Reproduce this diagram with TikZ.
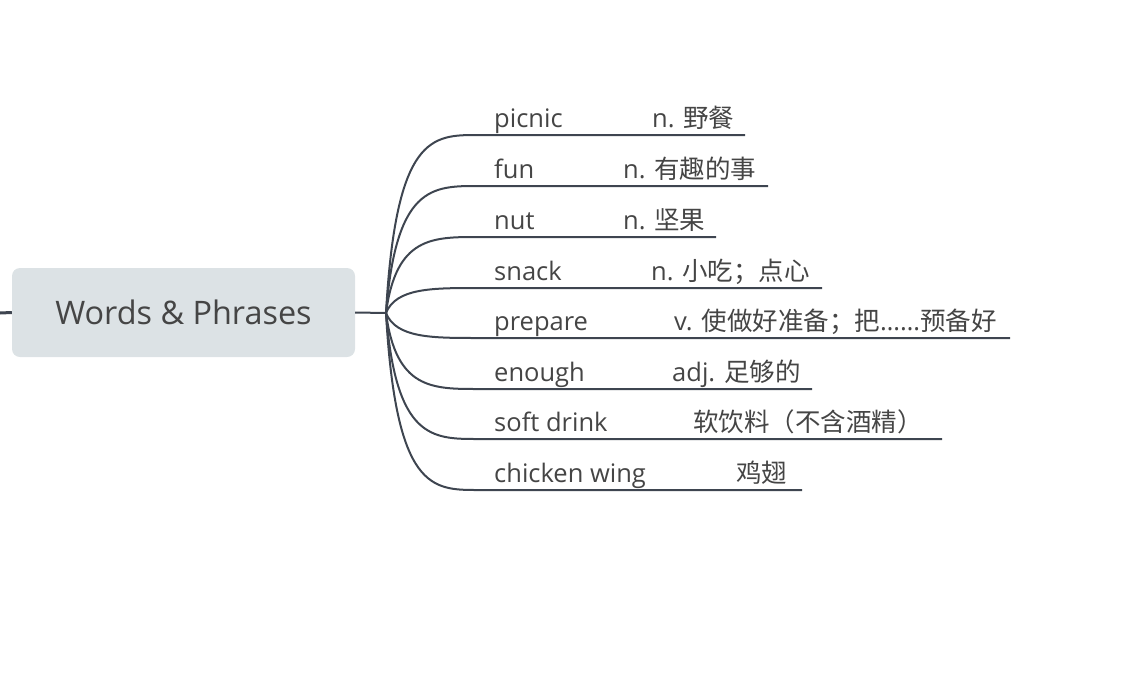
\documentclass[tikz,border=0pt]{standalone}
\usepackage{fontspec}
\setmainfont{Open Sans}
\newfontfamily\cjk{Noto Sans CJK SC}
\definecolor{linec}{HTML}{3E4550}
\definecolor{txtc}{HTML}{454545}
\definecolor{boxc}{HTML}{DCE2E5}
\begin{document}
\begin{tikzpicture}[x=1pt,y=-1pt,
  word/.style={anchor=base west, inner sep=0pt, text=txtc, font=\fontsize{25.5}{30}\selectfont},
  branch/.style={draw=linec, line width=2pt},
  rootbox/.style={fill=boxc, rounded corners=8pt, minimum width=343pt, minimum height=89pt, text=txtc, font=\fontsize{32.4}{38}\selectfont, inner sep=0pt}]
\useasboundingbox (0,0) rectangle (1123,677);
\node[rootbox] (root) at (183.5,312.5) {Words \& Phrases};
\coordinate (stub) at (0,313);
\draw[linec, line width=3pt] (stub) -- (root.west);
\coordinate (hub) at (386,313);
\draw[branch] (root.east) -- (hub);
\foreach \i/\y/\w/\mx/\ex/\m in {
  1/135/{picnic}/652/745/{n. \cjk 野餐},
  2/186/{fun}/623/768/{n. \cjk 有趣的事},
  3/237/{nut}/623/716/{n. \cjk 坚果},
  4/288/{snack}/651/822/{n. \cjk 小吃；点心},
  5/338/{prepare}/674/1010/{v. \cjk 使做好准备；把{\rmfamily ……}预备好},
  6/389/{enough}/672/812/{adj. \cjk 足够的},
  7/439/{soft drink}/693/942/{\cjk 软饮料（不含酒精）},
  8/490/{chicken wing}/736/802/{\cjk 鸡翅}}
{
  \coordinate (s\i) at (478,\y);
  \coordinate (e\i) at (\ex,\y);
  \node[word] (w\i) at (494,\y-8) {\w};
  \node[word] (m\i) at (\mx,\y-8) {\m};
  \draw[branch] (hub) .. controls (396,\y) and (432,\y) .. (s\i) -- (e\i);
}
\end{tikzpicture}
\end{document}
